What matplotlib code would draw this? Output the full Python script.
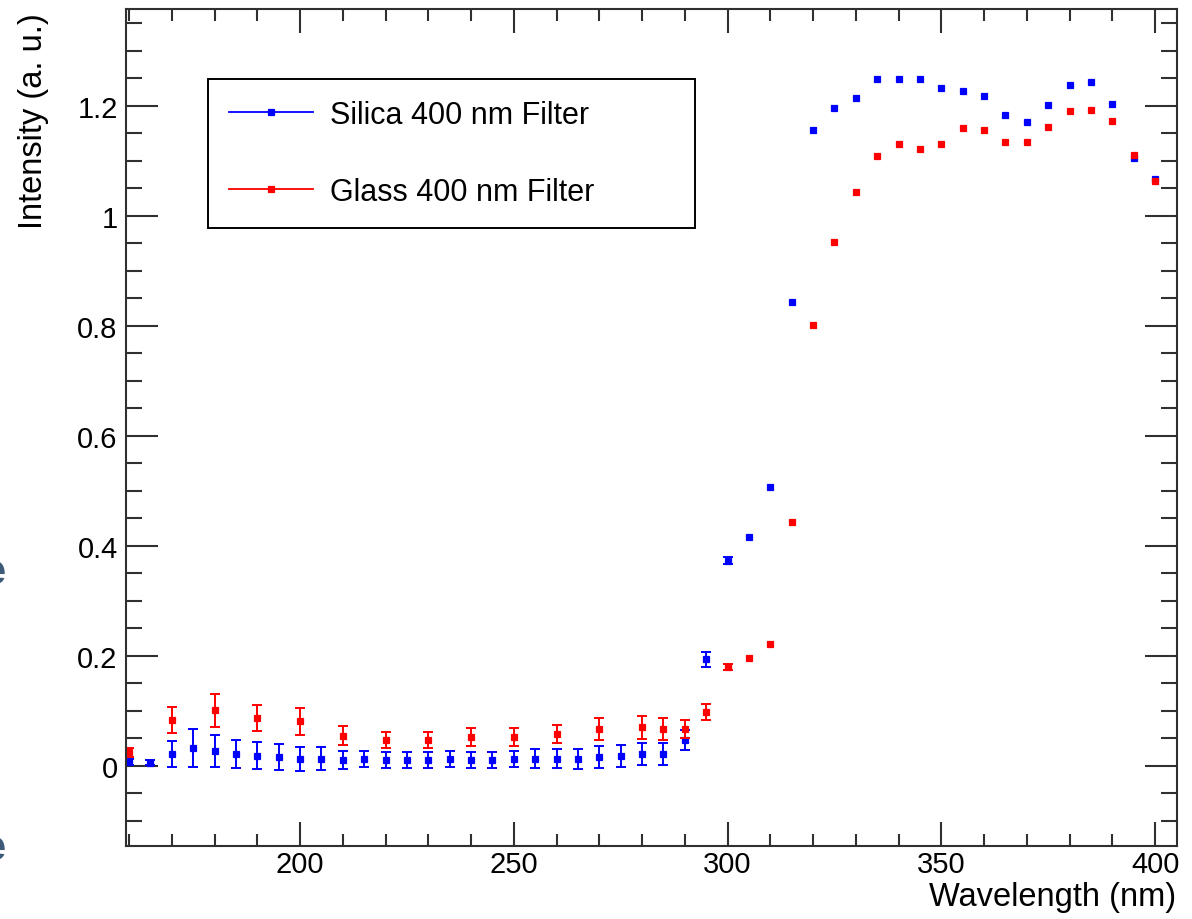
import numpy as np
import matplotlib
matplotlib.use("Agg")
import matplotlib.pyplot as plt
from matplotlib.lines import Line2D
from matplotlib.ticker import MultipleLocator, FormatStrFormatter

# Silica filter, every 5 nm
silica_wl = np.arange(160, 401, 5)
silica_val = [0.007, 0.006, 0.022, 0.033, 0.027, 0.022, 0.019, 0.016, 0.013, 0.013,
              0.011, 0.013, 0.011, 0.011, 0.011, 0.013, 0.011, 0.011, 0.013, 0.013,
              0.013, 0.013, 0.016, 0.019, 0.022, 0.022, 0.047, 0.194, 0.373, 0.416,
              0.508, 0.844, 1.156, 1.196, 1.215, 1.249, 1.249, 1.249, 1.232, 1.227,
              1.218, 1.184, 1.170, 1.201, 1.238, 1.244, 1.204, 1.105, 1.067]
silica_err = [0.006, 0.005, 0.024, 0.035, 0.029, 0.025, 0.025, 0.024, 0.022, 0.021,
              0.017, 0.015, 0.015, 0.014, 0.014, 0.015, 0.015, 0.015, 0.015, 0.017,
              0.017, 0.018, 0.020, 0.020, 0.020, 0.020, 0.018, 0.014, 0.006, 0.002,
              0.002, 0.002, 0.002, 0.002, 0.002, 0.002, 0.002, 0.002, 0.002, 0.002,
              0.002, 0.002, 0.002, 0.002, 0.002, 0.002, 0.002, 0.002, 0.002]

# Glass filter
glass_wl = [160, 170, 180, 190, 200, 210, 220, 230, 240, 250, 260, 270, 280, 285,
            290, 295, 300, 305, 310, 315, 320, 325, 330, 335, 340, 345, 350, 355,
            360, 365, 370, 375, 380, 385, 390, 395, 400]
glass_val = [0.025, 0.084, 0.101, 0.087, 0.081, 0.055, 0.047, 0.047, 0.053, 0.053,
             0.058, 0.067, 0.070, 0.067, 0.067, 0.098, 0.180, 0.196, 0.222, 0.444,
             0.802, 0.953, 1.044, 1.109, 1.131, 1.122, 1.131, 1.159, 1.156, 1.134,
             1.134, 1.162, 1.190, 1.193, 1.173, 1.111, 1.064]
glass_err = [0.008, 0.024, 0.030, 0.024, 0.024, 0.017, 0.014, 0.015, 0.016, 0.016,
             0.016, 0.020, 0.021, 0.020, 0.017, 0.014, 0.006, 0.002, 0.002, 0.002,
             0.002, 0.002, 0.002, 0.002, 0.002, 0.002, 0.002, 0.002, 0.002, 0.002,
             0.002, 0.002, 0.002, 0.002, 0.002, 0.002, 0.002]

labels = ["Silica 400 nm Filter", "Glass 400 nm Filter"]
colors = ["#0000ff", "#ff0000"]

W, H = 1192, 920
fig = plt.figure(figsize=(W / 100, H / 100), dpi=100)
ax = fig.add_axes([126 / W, 1 - 847 / H, (1176.5 - 126) / W, (847 - 9.5) / H])

font = "Liberation Sans"

for wl, val, err, c in [(silica_wl, silica_val, silica_err, colors[0]),
                        (glass_wl, glass_val, glass_err, colors[1])]:
    wl, val, err = np.asarray(wl), np.asarray(val), np.asarray(err)
    # bars smaller than the marker are hidden behind it in the original
    big = err > 0.003
    ax.errorbar(wl[big], val[big], yerr=err[big], fmt="none", ecolor=c,
                elinewidth=1.4, capsize=3.6, capthick=1.4)
    ax.plot(wl, val, "s", color=c, ms=4.3, mec=c, mew=0.9)

ax.set_xlim(159.3, 405.0)
ax.set_ylim(-0.1455, 1.377)

ax.xaxis.set_major_locator(MultipleLocator(50))
ax.xaxis.set_minor_locator(MultipleLocator(10))
ax.yaxis.set_major_locator(MultipleLocator(0.2))
ax.yaxis.set_minor_locator(MultipleLocator(0.05))
ax.yaxis.set_major_formatter(FormatStrFormatter("%g"))

spine_c = "#303030"
for s in ax.spines.values():
    s.set_color(spine_c)
    s.set_linewidth(1.5)

ax.tick_params(axis="both", which="both", direction="in", top=True, right=True,
               color=spine_c, width=1.5, labelsize=21)
ax.tick_params(axis="x", which="major", length=17.5, pad=3)
ax.tick_params(axis="x", which="minor", length=8.7)
ax.tick_params(axis="y", which="major", length=23, pad=6)
ax.tick_params(axis="y", which="minor", length=11.5)
for lab in ax.get_xticklabels() + ax.get_yticklabels():
    lab.set_fontfamily(font)

ax.set_xlabel("Wavelength (nm)", fontsize=23.5, family=font)
ax.xaxis.set_label_coords(1.0, -0.06)
ax.xaxis.label.set_horizontalalignment("right")
ax.xaxis.label.set_verticalalignment("center")
ax.set_ylabel("Intensity (a. u.)", fontsize=23.5, family=font)
ax.yaxis.set_label_coords(-0.088, 0.996)
ax.yaxis.label.set_horizontalalignment("right")
ax.yaxis.label.set_verticalalignment("center")

handles = [Line2D([], [], color=c, lw=1.3, marker="s", ms=4.3, mec=c, mew=0.9)
           for c in colors]
leg = fig.legend(handles, labels, loc="upper left",
                 bbox_to_anchor=(208 / W, 1 - 80 / H, (695 - 208) / W, 0.0),
                 mode="expand", borderaxespad=0, prop={"family": font, "size": 22},
                 handlelength=2.75, handletextpad=0.55, borderpad=0.69, labelspacing=1.53,
                 numpoints=1, fancybox=False, framealpha=1, edgecolor="black")
leg.get_frame().set_linewidth(1.4)

# partial glyphs cut off at the left edge of the source slide
for yy in (573, 849):
    fig.text(5 / W, 1 - yy / H, "e", ha="right", va="center", fontsize=30,
             fontweight="bold", color="#3d5a78", family=font)

fig.savefig("out.png", dpi=100)
